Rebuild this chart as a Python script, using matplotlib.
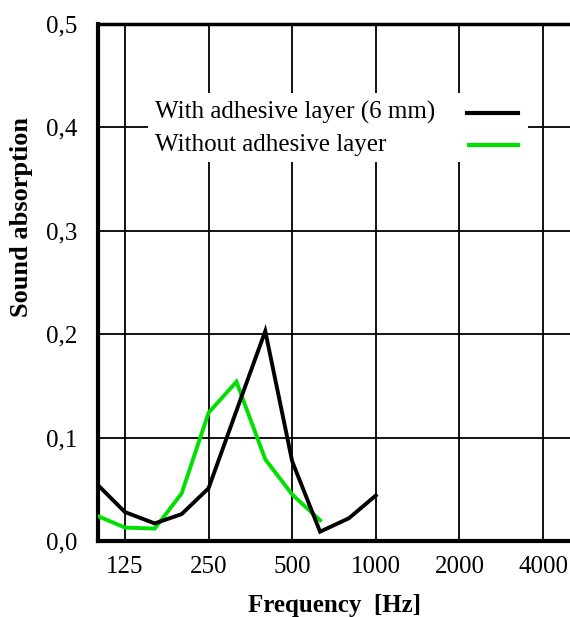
import matplotlib.pyplot as plt
from matplotlib.patches import Rectangle

freq = [100, 125, 160, 200, 250, 315, 400, 500, 630, 800, 1000]
with_layer = [0.054, 0.028, 0.017, 0.026, 0.051, 0.126, 0.203, 0.077, 0.009, 0.022, 0.044]
freq_without = [100, 125, 160, 200, 250, 315, 400, 500, 630]
without_layer = [0.024, 0.013, 0.012, 0.046, 0.124, 0.154, 0.079, 0.045, 0.020]

xticks = [125, 250, 500, 1000, 2000, 4000]
xtick_labels = ["125", "250", "500", "1000", "2000", "4000"]
yticks = [0.0, 0.1, 0.2, 0.3, 0.4, 0.5]
ytick_labels = ["0,0", "0,1", "0,2", "0,3", "0,4", "0,5"]

plt.rcParams["font.family"] = ["Liberation Serif", "DejaVu Serif"]

fig = plt.figure(figsize=(5.7, 6.17), dpi=100)
ax = fig.add_axes([98 / 570, 1 - 541 / 617, 472 / 570, 517 / 617])

ax.plot(freq, with_layer, color="black", lw=2.8, zorder=5, solid_joinstyle="miter")
ax.plot(freq_without, without_layer, color="#00e000", lw=2.8, zorder=4, solid_joinstyle="miter")

ax.set_xscale("log")
ax.set_xlim(100, 5000)
ax.set_ylim(0, 0.5)
ax.set_xticks(xticks)
ax.set_xticklabels(xtick_labels)
ax.set_xticks([], minor=True)
ax.set_yticks(yticks)
ax.set_yticklabels(ytick_labels)
ax.tick_params(axis="both", length=0, labelsize=18)
ax.tick_params(axis="x", pad=11)
ax.tick_params(axis="y", pad=15)
ax.grid(True, color="black", linewidth=1.3)
ax.set_axisbelow(True)

ax.spines["left"].set_linewidth(3)
ax.spines["bottom"].set_linewidth(3)
ax.spines["top"].set_linewidth(2.5)
ax.spines["right"].set_visible(False)

ax.set_ylabel("Sound absorption", fontweight="bold", fontsize=19)
ax.yaxis.set_label_coords(-0.138, 0.627)
ax.set_xlabel("Frequency  [Hz]", fontweight="bold", fontsize=18)
ax.xaxis.set_label_coords(0.502, -0.102)

# legend drawn by hand: text left, sample line right
ax.add_patch(Rectangle((0.106, 0.733), 0.805, 0.134, transform=ax.transAxes,
                       facecolor="white", edgecolor="none", zorder=3))
ax.text(0.121, 0.828, "With adhesive layer (6 mm)", transform=ax.transAxes,
        fontsize=18, va="center", zorder=6)
ax.text(0.121, 0.766, "Without adhesive layer", transform=ax.transAxes,
        fontsize=18, va="center", zorder=6)
ax.plot([0.782, 0.890], [0.828, 0.828], transform=ax.transAxes, color="black", lw=3, zorder=6)
ax.plot([0.786, 0.890], [0.766, 0.766], transform=ax.transAxes, color="#00e000", lw=3, zorder=6)

plt.savefig("out.png", dpi=100)
